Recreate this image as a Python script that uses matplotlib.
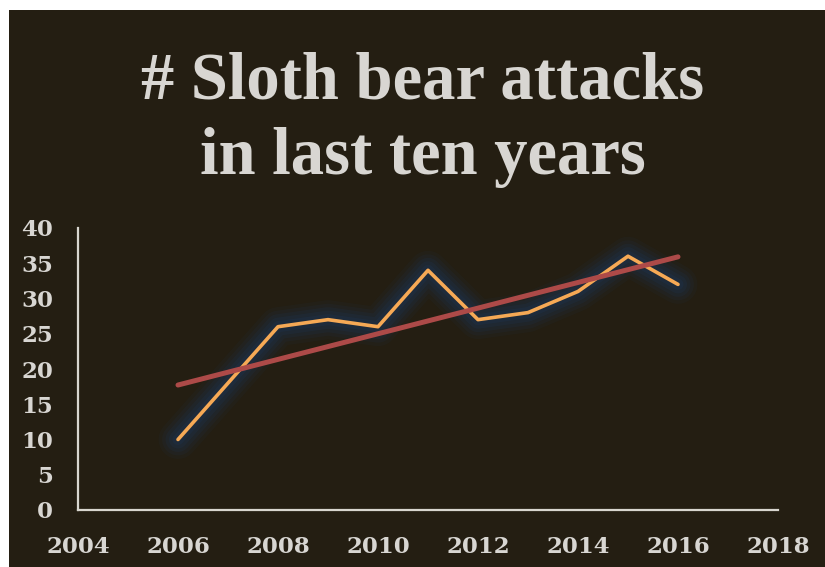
import matplotlib.pyplot as plt
import numpy as np
from matplotlib.patches import Rectangle

# yearly counts of sloth bear attacks
years = [2006, 2007, 2008, 2009, 2010, 2011, 2012, 2013, 2014, 2015, 2016]
attacks = [10, 18, 26, 27, 26, 34, 27, 28, 31, 36, 32]
x_ticks = [2004, 2006, 2008, 2010, 2012, 2014, 2016, 2018]
y_ticks = [0, 5, 10, 15, 20, 25, 30, 35, 40]

bg = '#241e12'
txt = '#d8d6d2'

fig = plt.figure(figsize=(8.25, 5.67), dpi=100)
fig.patch.set_facecolor('white')
fig.patches.append(Rectangle((9 / 825, 0), 1, 1 - 10 / 567, transform=fig.transFigure,
                             facecolor=bg, edgecolor='none', zorder=-10))

fig.text(0.512, 0.855, '# Sloth bear attacks', ha='center', va='center', color=txt,
         fontsize=48, fontweight='bold', family='Liberation Serif')
fig.text(0.512, 0.722, 'in last ten years', ha='center', va='center', color=txt,
         fontsize=48, fontweight='bold', family='Liberation Serif')

ax = fig.add_axes([78 / 825, 1 - 510 / 567, 700 / 825, 282 / 567])
ax.set_facecolor('none')

# soft bluish glow under the data line
for lw, a in [(28, 0.10), (23, 0.13), (18, 0.17), (13, 0.22), (8, 0.26)]:
    ax.plot(years, attacks, color='#1c3656', lw=lw, alpha=a,
            solid_capstyle='round', solid_joinstyle='round', zorder=2)
ax.plot(years, attacks, color='#f6a955', lw=2.6, solid_capstyle='round', zorder=3)

# linear trend
k, b = np.polyfit(years, attacks, 1)
yr = np.array([years[0], years[-1]])
ax.plot(yr, k * yr + b, color='#ad4a48', lw=3.6, solid_capstyle='round', zorder=4)

ax.set_xlim(2004, 2018)
ax.set_ylim(0, 40)
ax.set_xticks(x_ticks)
ax.set_yticks(y_ticks)
for s in ['top', 'right']:
    ax.spines[s].set_visible(False)
for s in ['left', 'bottom']:
    ax.spines[s].set_color('#d8d6cf')
    ax.spines[s].set_linewidth(1.6)
ax.tick_params(length=0, colors=txt, labelsize=16.5)
ax.tick_params(axis='x', pad=19)
ax.tick_params(axis='y', pad=18)
for lab in ax.get_xticklabels() + ax.get_yticklabels():
    lab.set_fontweight('bold')
    lab.set_family('DejaVu Serif')

fig.savefig('out.png', dpi=100, facecolor=fig.get_facecolor())
